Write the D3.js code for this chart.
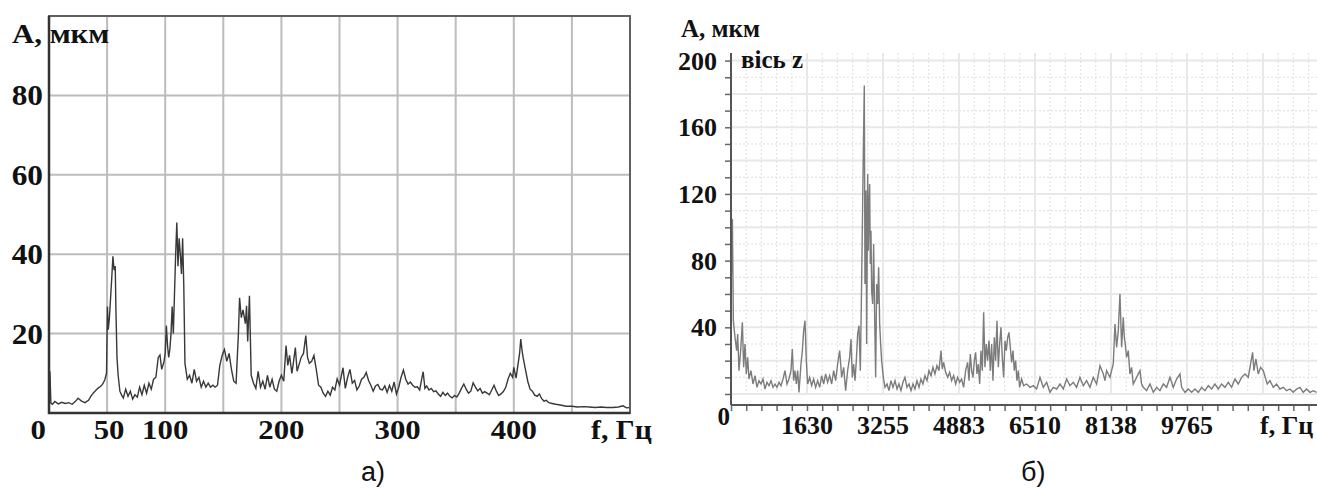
<!DOCTYPE html>
<html>
<head>
<meta charset="utf-8">
<script src="https://cdn.jsdelivr.net/npm/d3@7"></script>
<style>
  body { margin: 0; background: #fff; }
  svg { display: block; }
  .lbl { font-family: "Liberation Serif", "Times New Roman", serif; font-weight: bold; fill: #111; }
  .cap { font-family: "Liberation Sans", Arial, sans-serif; fill: #111; }
</style>
</head>
<body>
<svg id="chart" width="1317" height="488"></svg>
<script>
// panel a) spectrum, [f Hz, A mkm]
const spectrumA = [[0.8,10.5],[1.6,2.5],[3,2.2],[5,2.9],[8,2.3],[11,2.7],[14,2.4],[17,2.6],[20,2.2],[23,3.0],[25,3.7],[28,3.0],[31,2.6],[34,3.2],[36,4.2],[38,5.0],[40,5.6],[42,6.2],[44,6.6],[46,7.2],[48,8.3],[49.5,10],[50.3,26.8],[51,21],[52,24],[53,29],[54,34],[55,39.5],[56,36],[57,37],[57.6,26],[58.5,14],[59.5,9.5],[61,5.5],[62.5,4.5],[64,3.8],[66,6],[68,4.2],[70,5.5],[72,3.5],[74,4.6],[76,4],[78,6.5],[80,4.6],[82,7],[84,5],[86,7.5],[88,6],[90,8.5],[92,9],[94,14],[95.5,14.6],[97,11],[99,13],[100,15],[101,22],[102,17],[103,14],[104,16],[105,20],[106,26.8],[107,20],[108,30],[109,40],[110,48],[111,37],[112,44],[113,40],[114,35],[115,44],[116,32],[117,12.5],[119,8.5],[121,9.5],[123,7.5],[125,11],[127,8],[129,9],[131,6.5],[133,8],[135,6.5],[137,7.5],[139,6.5],[141,7],[143,6.5],[145,7],[147,12],[149,14.5],[151,16],[153,13],[155,15],[157,11],[159,8],[161,7.5],[163,20],[164,29],[165.5,24],[167,26],[169,22.5],[170,27],[171,18],[172.5,29.5],[174,9.5],[176,7.5],[178,6.2],[180,10.5],[182,6.5],[184,8],[186,6],[188,9.5],[190,6.5],[192,8.5],[194,6],[196,5.5],[198,8],[200,9.5],[202,8],[204,17],[205.5,12],[207,14.5],[209,10],[210,12],[212,16.5],[213.5,10.5],[215,12],[217,14],[219,15],[221,19.5],[222.5,14],[224,12.5],[226,13],[228,14.5],[230,11],[232,7],[234,6.5],[236,5],[238,4.2],[240,5.5],[242,4.5],[244,6.5],[246,5.8],[248,8.6],[250,7],[253,11.4],[255,6.2],[257,9],[259,11],[261,7.5],[263,8.2],[265,5.8],[267,6.8],[269,8.5],[271,9],[273,10.2],[275,8.2],[277,7],[279,5.5],[281,6.8],[283,7.2],[285,6],[287,5.8],[289,6.8],[291,5.2],[293,7],[295,5.5],[297,7.8],[299,4.8],[301,6.5],[303,9],[305,10.8],[307,8.5],[309,7.3],[311,7.8],[313,7],[315,6.5],[317,6.6],[319,5.8],[321,9],[322,10.4],[323.5,6.2],[325,6.8],[327,5.8],[329,6.2],[331,5.4],[333,5.6],[335,4.8],[337,4.2],[339,5.2],[341,4.4],[343,5],[345,4.2],[347,3.8],[349,4.4],[351,4],[353,5],[355,6.2],[357,7.3],[359,6],[361,5],[363,5.5],[365,7.6],[367,6.5],[369,5.6],[371,6.2],[373,5],[375,5.4],[377,5],[379,4.6],[381,5.8],[383,7],[385,5.5],[387,4.4],[389,4.8],[391,5.4],[393,6.4],[395,8.5],[397,10],[399,9],[400,11.5],[402,8.8],[403,11],[405,15],[406,18.6],[407,16],[408,14],[410,11],[412,8],[414,6],[416,5.5],[418,4.5],[420,4.2],[422,4.8],[424,3.6],[426,3],[428,3.2],[430,2.6],[433,2.4],[436,2.2],[440,2],[445,1.7],[450,1.7],[455,1.5],[460,1.6],[465,1.5],[470,1.4],[475,1.5],[480,1.4],[485,1.4],[490,1.5],[494,1.8],[497,1.3],[500,1.4]];
const yTicksA = [20, 40, 60, 80];
const xTicksA = [0, 50, 100, 200, 300, 400];

// panel б) spectrum, axis z, [f Hz, A mkm]
const spectrumB = [[0,60],[30,105],[50,44],[86,34],[121,26],[143,36],[171,14],[207,26],[243,43],[271,16],[300,30],[328,12],[357,22],[385,9],[428,14],[471,6],[514,11],[557,4],[600,8],[642,6],[685,9],[728,3],[771,7],[814,5],[857,8],[899,4],[942,6],[985,4],[1028,7],[1071,5],[1114,9],[1156,14],[1199,6],[1242,9],[1285,14],[1313,27],[1342,8],[1370,14],[1399,6],[1428,14],[1456,1],[1499,18],[1528,26],[1556,38],[1585,44],[1613,20],[1642,6],[1685,10],[1727,5],[1770,9],[1813,4],[1856,8],[1899,4],[1942,11],[1984,6],[2027,12],[2070,7],[2113,11],[2156,6],[2198,14],[2241,8],[2284,18],[2327,26],[2370,10],[2413,16],[2455,2],[2498,14],[2541,22],[2570,33],[2598,10],[2627,18],[2655,8],[2684,20],[2712,36],[2741,41],[2770,14],[2791,54],[2812,98],[2834,146],[2855,185],[2869,66],[2891,122],[2905,30],[2927,132],[2941,86],[2955,112],[2969,126],[2984,78],[2998,98],[3012,62],[3034,54],[3055,90],[3077,46],[3098,10],[3119,66],[3141,54],[3162,76],[3184,42],[3205,30],[3226,20],[3262,10],[3298,4],[3341,6],[3383,2],[3426,8],[3469,4],[3512,8],[3555,3],[3597,6],[3640,2],[3683,7],[3726,10],[3769,4],[3812,6],[3855,2],[3897,6],[3940,3],[3983,8],[4026,4],[4069,9],[4111,6],[4154,11],[4197,8],[4240,14],[4283,11],[4325,16],[4368,12],[4411,17],[4454,14],[4497,26],[4525,15],[4554,19],[4597,13],[4640,10],[4682,13],[4725,8],[4768,11],[4811,6],[4854,10],[4897,7],[4939,9],[4982,4],[5025,14],[5068,19],[5097,8],[5125,24],[5154,14],[5182,10],[5211,20],[5239,25],[5268,12],[5296,18],[5325,6],[5353,26],[5382,14],[5411,49],[5439,16],[5468,30],[5496,20],[5525,32],[5554,14],[5582,30],[5611,8],[5639,34],[5668,20],[5696,44],[5725,16],[5753,30],[5782,40],[5810,22],[5839,10],[5868,32],[5896,26],[5925,34],[5953,37],[5982,28],[6010,19],[6039,26],[6067,14],[6096,20],[6124,8],[6153,14],[6181,4],[6224,9],[6267,5],[6331,6],[6403,4],[6474,5],[6545,3],[6617,10],[6688,4],[6760,7],[6831,1],[6902,4],[6974,3],[7045,6],[7117,3],[7188,9],[7259,5],[7331,7],[7402,4],[7473,10],[7545,5],[7616,8],[7688,4],[7759,10],[7830,6],[7902,17],[7973,12],[8009,8],[8044,14],[8116,10],[8187,18],[8223,42],[8259,28],[8294,38],[8330,60],[8366,28],[8401,46],[8423,34],[8444,30],[8473,22],[8508,26],[8544,12],[8580,16],[8615,6],[8687,10],[8758,14],[8794,6],[8830,4],[8901,2],[8972,6],[9044,1],[9115,4],[9187,2],[9258,6],[9329,4],[9401,10],[9472,4],[9543,9],[9615,12],[9651,4],[9722,1],[9793,3],[9865,1],[9936,3],[10008,1],[10079,4],[10150,2],[10222,5],[10293,3],[10364,6],[10436,3],[10507,6],[10578,4],[10650,7],[10721,4],[10793,9],[10864,6],[10935,10],[11007,12],[11078,10],[11128,18],[11171,25],[11199,14],[11242,21],[11292,12],[11342,16],[11399,14],[11442,10],[11485,6],[11542,8],[11613,4],[11685,6],[11756,3],[11828,4],[11899,2],[11970,3],[12042,1],[12113,3],[12185,4],[12256,1],[12327,3],[12399,1],[12470,2],[12541,1]];
const yTicksB = [40, 80, 120, 160, 200];
const xTicksB = [1630, 3255, 4883, 6510, 8138, 9765];

const svg = d3.select("#chart");

// bold serif label, stretched a little horizontally like the scan
function label(g, x, y, txt, size, anchor, sx) {
  return g.append("text")
    .attr("class", "lbl")
    .attr("transform", `translate(${x},${y}) scale(${sx},1)`)
    .attr("text-anchor", anchor)
    .style("font-size", size + "px")
    .text(txt);
}

// ===== panel a =====
const xA = d3.scaleLinear().domain([0, 500]).range([49, 630]);
const yA = d3.scaleLinear().domain([0, 100]).range([413, 16]);
const gA = svg.append("g");

// grid
gA.selectAll(".vgA").data(d3.range(50, 500, 50)).join("line")
  .attr("x1", d => xA(d)).attr("x2", d => xA(d))
  .attr("y1", yA(100)).attr("y2", yA(0))
  .attr("stroke", "#bcbcbc").attr("stroke-width", 2);
gA.selectAll(".hgA").data(yTicksA).join("line")
  .attr("x1", xA(0)).attr("x2", xA(500))
  .attr("y1", d => yA(d)).attr("y2", d => yA(d))
  .attr("stroke", "#bcbcbc").attr("stroke-width", 2);

// spectrum line
gA.append("path")
  .datum(spectrumA)
  .attr("d", d3.line().x(d => xA(d[0])).y(d => yA(d[1])))
  .attr("fill", "none")
  .attr("stroke", "#383838")
  .attr("stroke-width", 1.4);

// frame
gA.append("rect")
  .attr("x", xA(0)).attr("y", yA(100))
  .attr("width", xA(500) - xA(0)).attr("height", yA(0) - yA(100))
  .attr("fill", "none").attr("stroke", "#606060").attr("stroke-width", 2);
gA.append("path")
  .attr("d", `M${xA(0)},${yA(100)}V${yA(0)}H${xA(500)}`)
  .attr("fill", "none").attr("stroke", "#333").attr("stroke-width", 2.5);

// labels
yTicksA.forEach(d => label(gA, 43, yA(d) + 10, d, 29, "end", 1.08));
xTicksA.forEach(d => {
  if (d === 0) label(gA, xA(d) - 3, 439, d, 28, "end", 1.1);
  else label(gA, xA(d) + (d === 50 ? 2 : 0), 439, d, 28, "middle", 1.1);
});
label(gA, 12, 43, "A, мкм", 28, "start", 1.1);
label(gA, 591, 439, "f, Гц", 27, "start", 1.1);
gA.append("text").attr("class", "cap")
  .attr("x", 361).attr("y", 481).style("font-size", "27px")
  .text("а)");

// ===== panel б =====
const xB = d3.scaleLinear().domain([0, 12550]).range([731, 1317]);
const yB = d3.scaleLinear().domain([0, 200]).range([394, 60.6]);
const gB = svg.append("g");
const majorB = 1627.5;
const minorB = majorB / 5;
const topB = 53;

// minor dotted grid
gB.selectAll(".vmB").data(d3.range(1, 39).filter(i => i % 5 !== 0)).join("line")
  .attr("x1", i => xB(i * minorB)).attr("x2", i => xB(i * minorB))
  .attr("y1", topB).attr("y2", yB(0))
  .attr("stroke", "#e4e4e4").attr("stroke-width", 1.2)
  .attr("stroke-dasharray", "2,2");
gB.selectAll(".hmB").data(d3.range(10, 200, 20)).join("line")
  .attr("x1", xB(0)).attr("x2", 1317)
  .attr("y1", d => yB(d)).attr("y2", d => yB(d))
  .attr("stroke", "#e4e4e4").attr("stroke-width", 1.2)
  .attr("stroke-dasharray", "2,2");
// major solid grid
gB.selectAll(".vMB").data(d3.range(1, 8)).join("line")
  .attr("x1", i => xB(i * majorB)).attr("x2", i => xB(i * majorB))
  .attr("y1", topB).attr("y2", yB(0))
  .attr("stroke", "#e8e8e8").attr("stroke-width", 2);
gB.selectAll(".hMB").data(d3.range(0, 201, 20)).join("line")
  .attr("x1", xB(0)).attr("x2", 1317)
  .attr("y1", d => yB(d)).attr("y2", d => yB(d))
  .attr("stroke", "#e8e8e8").attr("stroke-width", 2);

// spectrum line
gB.append("path")
  .datum(spectrumB)
  .attr("d", d3.line().x(d => xB(d[0])).y(d => yB(d[1])))
  .attr("fill", "none")
  .attr("stroke", "#7c7c7c")
  .attr("stroke-width", 1.4);

// axes
const yAxisB = d3.axisLeft(yB).tickValues(d3.range(0, 201, 10)).tickSize(6).tickFormat("");
gB.append("g").attr("transform", `translate(${xB(0)},0)`).call(yAxisB)
  .call(g => g.select(".domain").remove())
  .call(g => g.selectAll("line").attr("stroke", "#666").attr("stroke-width", 1.5));
gB.append("line")
  .attr("x1", xB(0)).attr("x2", xB(0)).attr("y1", topB).attr("y2", 405)
  .attr("stroke", "#555").attr("stroke-width", 2);

const xAxisB = d3.axisBottom(xB).tickValues(d3.range(0, 39).map(i => i * minorB)).tickSize(6).tickFormat("");
gB.append("g").attr("transform", "translate(0,405)").call(xAxisB)
  .call(g => g.select(".domain").remove())
  .call(g => g.selectAll("line").attr("stroke", "#666").attr("stroke-width", 1.5));
gB.append("line")
  .attr("x1", xB(0)).attr("x2", 1317).attr("y1", 405).attr("y2", 405)
  .attr("stroke", "#555").attr("stroke-width", 2);

// labels
yTicksB.forEach(d => label(gB, 717, yB(d) + 9, d, 26, "end", 1.0));
xTicksB.forEach(d => label(gB, xB(d), 434, d, 26, "middle", 1.0));
label(gB, xB(0) - 1, 425, "0", 25, "end", 1.0);
label(gB, 681, 37, "A, мкм", 25, "start", 1.0);
label(gB, 741, 68, "вісь z", 25, "start", 1.0);
label(gB, 1260, 434, "f, Гц", 26, "start", 1.0);
gB.append("text").attr("class", "cap")
  .attr("x", 1021).attr("y", 481).style("font-size", "27px")
  .text("б)");
</script>
</body>
</html>
